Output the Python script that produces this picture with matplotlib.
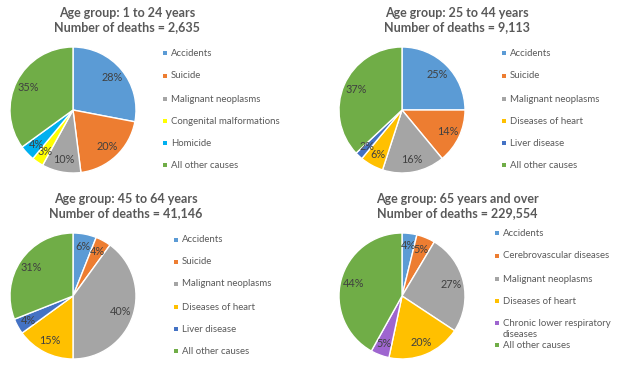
import matplotlib
matplotlib.use("Agg")
import matplotlib.pyplot as plt

plt.rcParams['font.family'] = ['Lato', 'DejaVu Sans']

W, H = 619, 367

# data
titles = [
    "Age group: 1 to 24 years\nNumber of deaths = 2,635",
    "Age group: 25 to 44 years\nNumber of deaths = 9,113",
    "Age group: 45 to 64 years\nNumber of deaths = 41,146",
    "Age group: 65 years and over\nNumber of deaths = 229,554",
]
causes_1 = ["Accidents", "Suicide", "Malignant neoplasms",
            "Congenital malformations", "Homicide", "All other causes"]
causes_2 = ["Accidents", "Suicide", "Malignant neoplasms",
            "Diseases of heart", "Liver disease", "All other causes"]
causes_3 = ["Accidents", "Suicide", "Malignant neoplasms",
            "Diseases of heart", "Liver disease", "All other causes"]
causes_4 = ["Accidents", "Cerebrovascular diseases", "Malignant neoplasms",
            "Diseases of heart", "Chronic lower respiratory\ndiseases", "All other causes"]
pct_1 = [28, 20, 10, 3, 4, 35]
pct_2 = [25, 14, 16, 6, 2, 37]
pct_3 = [6, 4, 40, 15, 4, 31]
pct_4 = [4, 5, 27, 20, 5, 44]

BLUE, ORANGE, GRAY, GOLD = "#5B9BD5", "#ED7D31", "#A5A5A5", "#FFC000"
DBLUE, GREEN = "#4472C4", "#70AD47"
colors_1 = [BLUE, ORANGE, GRAY, "#FFFF00", "#00B0F0", GREEN]
colors_2 = [BLUE, ORANGE, GRAY, GOLD, DBLUE, GREEN]
colors_3 = [BLUE, ORANGE, GRAY, GOLD, DBLUE, GREEN]
colors_4 = [BLUE, ORANGE, GRAY, GOLD, "#9E65CF", GREEN]

panels = [
    dict(causes=causes_1, pct=pct_1, colors=colors_1, center=(73, 110),
         title_xy=(127, 20), leg_x=165, leg_y=[53, 76, 99, 121, 143, 165]),
    dict(causes=causes_2, pct=pct_2, colors=colors_2, center=(402, 110),
         title_xy=(457, 20), leg_x=504, leg_y=[53, 76, 99, 121, 143, 165]),
    dict(causes=causes_3, pct=pct_3, colors=colors_3, center=(73, 296),
         title_xy=(126, 206), leg_x=176, leg_y=[240, 262, 284, 307, 329, 351]),
    dict(causes=causes_4, pct=pct_4, colors=colors_4, center=(402, 296),
         title_xy=(457, 206), leg_x=497, leg_y=[233, 256, 279, 301, 329, 345]),
]

R = 63
TXT = "#595959"

fig = plt.figure(figsize=(W / 100, H / 100), dpi=100)
fig.patch.set_facecolor("white")

# overlay axes in pixel coordinates for titles and legends
ov = fig.add_axes([0, 0, 1, 1])
ov.set_xlim(0, W)
ov.set_ylim(H, 0)
ov.axis("off")

for i, p in enumerate(panels):
    cx, cy = p["center"]
    ax = fig.add_axes([(cx - R) / W, 1 - (cy + R) / H, 2 * R / W, 2 * R / H])
    labels = iter(f"{v}%" for v in p["pct"])
    wedges, _, autotexts = ax.pie(
        p["pct"], colors=p["colors"], startangle=90, counterclock=False,
        autopct=lambda _v: next(labels), pctdistance=0.8,
        wedgeprops=dict(edgecolor="white", linewidth=1.0),
        textprops=dict(color="#404040", fontsize=7.8))
    ax.set_xlim(-1, 1)
    ax.set_ylim(-1, 1)
    ax.set_aspect("equal")

    tx, ty = p["title_xy"]
    ov.text(tx, ty, titles[i], ha="center", va="center", fontsize=9,
            fontweight="bold", color=TXT, linespacing=1.15)

    lx = p["leg_x"]
    for name, col, y in zip(p["causes"], p["colors"], p["leg_y"]):
        ny = name.count("\n")
        my = y - 6 * ny
        ov.scatter([lx], [my], marker="s", s=9, color=col, linewidths=0)
        ov.text(lx + 6, y, name, ha="left", va="center", fontsize=6.9,
                color=TXT, linespacing=1.15)

fig.savefig("out.png", dpi=100, facecolor="white")
